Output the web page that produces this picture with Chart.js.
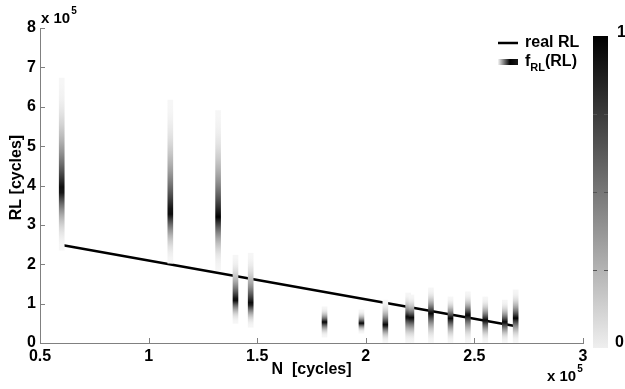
<!DOCTYPE html>
<html>
<head>
<meta charset="utf-8">
<script src="https://cdn.jsdelivr.net/npm/chart.js@4.4.0/dist/chart.umd.min.js"></script>
<style>
  html, body { margin: 0; padding: 0; background: #fff; }
</style>
</head>
<body>
<canvas id="rlChart" width="625" height="389"></canvas>
<script>
// N (x 1e5 cycles) at which each RL prediction was made
const stripN    = [0.60, 1.10, 1.32, 1.40, 1.47, 1.81, 1.98, 2.09, 2.195, 2.21, 2.30, 2.39, 2.47, 2.55, 2.64, 2.69];
// visible extent and mode of each predicted RL density (x 1e5 cycles)
const stripLow  = [2.36, 2.03, 1.85, 0.50, 0.40, 0.15, 0.25, 0.00, 0.00, 0.00, 0.00, 0.00, 0.00, 0.00, 0.00, 0.00];
const stripPeak = [3.88, 3.30, 3.20, 1.09, 1.00, 0.53, 0.50, 0.46, 0.66, 0.64, 0.76, 0.63, 0.71, 0.58, 0.53, 0.63];
const stripHigh = [6.73, 6.17, 5.90, 2.23, 2.28, 0.92, 0.84, 1.09, 1.27, 1.22, 1.40, 1.17, 1.30, 1.17, 1.09, 1.35];

// real remaining life line
const realN  = [0.60, 2.68];
const realRL = [2.49, 0.44];

const colorbarTicks = [0, 0.25, 0.5, 0.75, 1];

const FONT = 'Liberation Sans, Arial, Helvetica, sans-serif';
const AXIS_GREY = '#808080';

// gray colormap: 0 -> near white, 1 -> black
function grey(d) {
    const g = Math.round(246 * (1 - d));
    return `rgb(${g},${g},${g})`;
}

function density(v, i) {
    const pk = stripPeak[i];
    const span = v >= pk ? stripHigh[i] - pk : pk - stripLow[i];
    const s = Math.min(1, Math.abs(v - pk) / span);
    return Math.pow(1 - s, 2.2);
}

function stripColor(context) {
    const chart = context.chart;
    const { ctx, chartArea, scales } = chart;
    if (!chartArea || context.dataIndex === undefined) return '#ffffff';
    const i = context.dataIndex;
    const yTop = scales.y.getPixelForValue(stripHigh[i]);
    const yBot = scales.y.getPixelForValue(stripLow[i]);
    const grad = ctx.createLinearGradient(0, yTop, 0, yBot);
    const steps = 30;
    for (let k = 0; k <= steps; k++) {
        const v = stripHigh[i] - (stripHigh[i] - stripLow[i]) * k / steps;
        grad.addColorStop(k / steps, grey(density(v, i)));
    }
    return grad;
}

function writeExponent(ctx, x, y) {
    ctx.font = `bold 15px ${FONT}`;
    ctx.textAlign = 'left';
    ctx.textBaseline = 'middle';
    ctx.fillText('x 10', x, y);
    const w = ctx.measureText('x 10').width;
    ctx.font = `bold 10px ${FONT}`;
    ctx.fillText('5', x + w + 1, y - 8);
}

const decorations = {
    id: 'decorations',
    beforeDatasetsDraw(chart) {
        const { ctx, scales } = chart;
        const x = scales.x, y = scales.y;
        ctx.save();
        ctx.strokeStyle = AXIS_GREY;
        ctx.lineWidth = 1;
        ctx.beginPath();
        x.ticks.forEach(t => {
            const px = Math.round(x.getPixelForValue(t.value)) + 0.5;
            ctx.moveTo(px, y.bottom);
            ctx.lineTo(px, y.bottom - 5);
        });
        y.ticks.forEach(t => {
            const py = Math.round(y.getPixelForValue(t.value)) + 0.5;
            ctx.moveTo(x.left, py);
            ctx.lineTo(x.left + 5, py);
        });
        ctx.stroke();
        ctx.restore();
    },
    afterDraw(chart) {
        const { ctx, chartArea: a } = chart;
        ctx.save();
        ctx.fillStyle = '#000';

        // axis titles
        ctx.font = `bold 16px ${FONT}`;
        ctx.textAlign = 'center';
        ctx.textBaseline = 'middle';
        ctx.fillText('N  [cycles]', (a.left + a.right) / 2, a.bottom + 27);
        ctx.save();
        ctx.translate(17, (a.top + a.bottom) / 2 - 8);
        ctx.rotate(-Math.PI / 2);
        ctx.fillText('RL [cycles]', 0, 0);
        ctx.restore();

        // x 10^5 multipliers
        writeExponent(ctx, a.left + 1, a.top - 9);
        writeExponent(ctx, a.right - 36, a.bottom + 34);

        // legend
        const lx = a.right - 85, ly1 = a.top + 15, ly2 = a.top + 34;
        ctx.strokeStyle = '#000';
        ctx.lineWidth = 2.5;
        ctx.beginPath();
        ctx.moveTo(lx, ly1);
        ctx.lineTo(lx + 20, ly1);
        ctx.stroke();
        const lg = ctx.createLinearGradient(lx, 0, lx + 20, 0);
        lg.addColorStop(0, grey(0));
        lg.addColorStop(0.6, grey(1));
        lg.addColorStop(1, grey(0.9));
        ctx.fillStyle = lg;
        ctx.fillRect(lx, ly2 - 3, 20, 6);
        ctx.fillStyle = '#000';
        ctx.textAlign = 'left';
        ctx.font = `bold 16px ${FONT}`;
        ctx.fillText('real RL', lx + 27, ly1);
        let tx = lx + 27;
        ctx.fillText('f', tx, ly2);
        tx += ctx.measureText('f').width;
        ctx.font = `bold 11px ${FONT}`;
        ctx.fillText('RL', tx, ly2 + 6);
        tx += ctx.measureText('RL').width;
        ctx.font = `bold 16px ${FONT}`;
        ctx.fillText('(RL)', tx, ly2);

        // colorbar
        const cbL = a.right + 10, cbW = 15, cbT = a.top + 8, cbB = a.bottom + 5;
        const cg = ctx.createLinearGradient(0, cbT, 0, cbB);
        cg.addColorStop(0, grey(1));
        cg.addColorStop(1, grey(0.03));
        ctx.fillStyle = cg;
        ctx.fillRect(cbL, cbT, cbW, cbB - cbT);
        ctx.strokeStyle = '#555';
        ctx.lineWidth = 1;
        ctx.beginPath();
        colorbarTicks.slice(1, -1).forEach(v => {
            const py = Math.round(cbB - v * (cbB - cbT)) + 0.5;
            ctx.moveTo(cbL, py); ctx.lineTo(cbL + 4, py);
            ctx.moveTo(cbL + cbW - 4, py); ctx.lineTo(cbL + cbW, py);
        });
        ctx.stroke();
        ctx.fillStyle = '#000';
        ctx.font = `bold 16px ${FONT}`;
        ctx.fillText(String(colorbarTicks[colorbarTicks.length - 1]), cbL + cbW + 9, cbT - 3);
        ctx.fillText(String(colorbarTicks[0]), cbL + cbW + 7, a.bottom);
        ctx.restore();
    }
};

const ctx = document.getElementById('rlChart');

new Chart(ctx, {
    type: 'line',
    data: {
        datasets: [
            {
                type: 'bar',
                label: 'f_RL(RL)',
                data: stripN.map((n, i) => ({ x: n, y: [stripLow[i], stripHigh[i]] })),
                backgroundColor: stripColor,
                borderWidth: 0,
                barThickness: 5,
                order: 0
            },
            {
                type: 'line',
                label: 'real RL',
                data: realN.map((n, i) => ({ x: n, y: realRL[i] })),
                borderColor: '#000',
                borderWidth: 2.5,
                pointRadius: 0,
                fill: false,
                order: 1
            }
        ]
    },
    options: {
        responsive: false,
        animation: false,
        layout: { padding: { top: 28, right: 42, left: 0, bottom: 0 } },
        plugins: {
            legend: { display: false },
            tooltip: { enabled: false }
        },
        scales: {
            x: {
                type: 'linear',
                min: 0.5,
                max: 3,
                offset: false,
                afterFit: s => { s.height = 46; },
                grid: { display: true, drawOnChartArea: false, drawTicks: false },
                border: { color: AXIS_GREY, width: 1 },
                ticks: {
                    stepSize: 0.5,
                    padding: 4,
                    color: '#000',
                    maxRotation: 0,
                    font: { family: FONT, size: 16, weight: 'bold' },
                    callback: v => String(Number(v.toFixed(1)))
                }
            },
            y: {
                type: 'linear',
                min: 0,
                max: 8,
                afterFit: s => { s.width = 40; },
                grid: { display: true, drawOnChartArea: false, drawTicks: false },
                border: { color: AXIS_GREY, width: 1 },
                ticks: {
                    stepSize: 1,
                    padding: 4,
                    color: '#000',
                    font: { family: FONT, size: 16, weight: 'bold' }
                }
            }
        }
    },
    plugins: [decorations]
});
</script>
</body>
</html>
